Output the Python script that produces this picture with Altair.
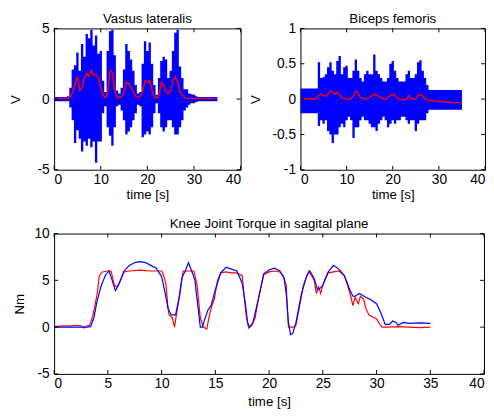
import altair as alt
import pandas as pd

# ---------------- data ----------------
# EMG sampling grid (every 0.5 s from 0 to 35 s)
EMG_T = [i * 0.5 for i in range(71)]

VL_HI = [0.15, 0.15, 0.15, 0.15, 0.15, 0.15, 0.2, 0.8, 2.1, 2.4,
         3.3, 2.0, 3.9, 3.0, 4.6, 4.3, 4.9, 3.8, 4.5, 3.2,
         3.4, 1.3, 0.5, 3.4, 4.8, 4.9, 3.1, 0.6, 0.4, 0.8,
         2.1, 3.9, 3.4, 2.8, 2.0, 1.0, 0.4, 0.5, 2.5, 4.1,
         3.4, 4.0, 2.5, 1.0, 0.3, 1.5, 2.7, 3.0, 2.8, 1.5,
         2.0, 3.4, 4.7, 4.9, 2.3, 1.5, 0.7, 0.7, 0.4, 0.35,
         0.3, 0.2, 0.15, 0.15, 0.15, 0.15, 0.15, 0.15, 0.15, 0.15,
         0.15]
VL_LO = [-0.15, -0.15, -0.15, -0.15, -0.15, -0.15, -0.15, -0.6, -1.5, -3.1,
         -2.2, -2.8, -3.7, -3.0, -3.3, -2.8, -3.4, -3.0, -4.5, -3.0,
         -3.0, -1.0, -0.5, -2.0, -2.6, -3.3, -2.0, -0.5, -0.4, -0.8,
         -1.5, -2.5, -2.3, -2.0, -1.5, -1.0, -0.4, -0.5, -2.7, -2.5,
         -2.3, -2.5, -2.0, -1.0, -0.3, -1.0, -2.0, -2.3, -2.0, -1.5,
         -1.5, -2.0, -2.5, -2.5, -2.0, -1.5, -0.8, -0.6, -0.4, -0.3,
         -0.3, -0.2, -0.15, -0.15, -0.15, -0.15, -0.15, -0.15, -0.15, -0.15,
         -0.15]
VL_ENV = [0.05, 0.05, 0.05, 0.05, 0.05, 0.05, 0.05, 0.2, 0.5, 1.1,
          1.6, 0.6, 0.8, 1.5, 1.8, 1.6, 2.0, 1.7, 1.7, 1.5,
          0.8, 0.3, 0.1, 0.5, 2.0, 1.9, 0.6, 0.1, 0.1, 0.2,
          0.5, 1.2, 1.1, 0.8, 0.5, 0.2, 0.1, 0.2, 0.6, 1.3,
          1.2, 1.3, 0.6, 0.2, 0.05, 0.3, 1.2, 1.0, 0.5, 0.4,
          0.6, 1.3, 1.6, 1.2, 0.5, 0.3, 0.1, 0.05, 0.05, 0.05,
          0.05, 0.05, 0.05, 0.05, 0.05, 0.05, 0.05, 0.05, 0.05, 0.05,
          0.05]

BF_HI = [0.15, 0.15, 0.15, 0.15, 0.15, 0.15, 0.15, 0.15, 0.52, 0.3,
         0.31, 0.35, 0.45, 0.52, 0.4, 0.35, 0.54, 0.61, 0.35, 0.45,
         0.47, 0.3, 0.3, 0.4, 0.56, 0.4, 0.3, 0.25, 0.35, 0.4,
         0.35, 0.35, 0.63, 0.4, 0.35, 0.3, 0.25, 0.25, 0.3, 0.5,
         0.54, 0.4, 0.3, 0.25, 0.25, 0.25, 0.35, 0.4, 0.3, 0.3,
         0.35, 0.52, 0.55, 0.4, 0.3, 0.2, 0.13, 0.13, 0.13, 0.13,
         0.13, 0.13, 0.13, 0.13, 0.13, 0.13, 0.13, 0.13, 0.13, 0.13,
         0.13]
BF_LO = [-0.2, -0.2, -0.2, -0.2, -0.2, -0.2, -0.2, -0.2, -0.38, -0.3,
         -0.35, -0.3, -0.45, -0.5, -0.62, -0.5, -0.5, -0.4, -0.35, -0.4,
         -0.3, -0.25, -0.3, -0.55, -0.4, -0.4, -0.3, -0.25, -0.3, -0.3,
         -0.35, -0.4, -0.4, -0.45, -0.35, -0.3, -0.25, -0.3, -0.4, -0.35,
         -0.3, -0.35, -0.3, -0.3, -0.25, -0.25, -0.3, -0.35, -0.3, -0.3,
         -0.45, -0.35, -0.3, -0.3, -0.3, -0.2, -0.15, -0.15, -0.15, -0.15,
         -0.15, -0.15, -0.15, -0.15, -0.15, -0.15, -0.15, -0.15, -0.15, -0.15,
         -0.15]
BF_ENV = [0.0, 0.0, 0.0, 0.0, 0.0, 0.0, 0.0, 0.02, 0.05, 0.07,
          0.05, 0.04, 0.08, 0.12, 0.1, 0.07, 0.1, 0.05, 0.02, 0.01,
          0.0, 0.0, 0.01, 0.05, 0.11, 0.08, 0.02, 0.01, 0.0, 0.01,
          0.02, 0.05, 0.07, 0.06, 0.04, 0.02, 0.0, 0.0, 0.03, 0.05,
          0.07, 0.05, 0.01, 0.0, -0.01, -0.01, 0.0, 0.05, 0.01, 0.0,
          0.0, 0.05, 0.07, 0.04, 0.0, -0.01, -0.02, -0.02, -0.03, -0.03,
          -0.03, -0.03, -0.04, -0.04, -0.04, -0.04, -0.05, -0.05, -0.05, -0.05,
          -0.05]

# Knee torque, red trace
TQ_RED_T = [0, 0.5, 1, 1.5, 2, 2.5, 2.8, 3, 3.3, 3.6, 4.0, 4.2, 4.5, 5.0, 5.3, 5.6, 5.8, 6.1, 6.5, 7,
            8, 9, 10, 10.2, 10.4, 10.6, 10.7, 11, 11.2, 11.4, 11.7, 12, 12.5, 13, 13.3, 13.6, 13.9, 14.2,
            14.4, 14.6, 14.9, 15.2, 15.5, 16, 16.5, 17, 17.5, 17.7, 17.9, 18.1, 18.4, 18.7, 19, 19.5, 20,
            20.5, 21, 21.3, 21.6, 21.7, 21.8, 22.3, 22.5, 22.8, 23.2, 23.7, 24.2, 24.4, 24.6, 24.8, 25,
            25.5, 26, 26.5, 27, 27.3, 27.6, 27.8, 28, 28.3, 28.5, 28.8, 29, 29.3, 29.6, 30, 30.3, 30.5,
            31, 32, 33, 34, 35]
TQ_RED_V = [0.05, 0.1, 0.15, 0.1, 0.2, 0.15, -0.1, 0.1, 0.2, 1.2, 3.5, 5.5, 5.9, 6.0, 6.0, 4.5, 4.3, 4.8, 5.9, 6.0,
            6.1, 6.0, 6.0, 5.5, 4.6, 2.0, 1.3, 1.0, 0.0, 1.5, 3.5, 6.0, 6.0, 6.0, 4.5, 1.0, 0.0, -0.2,
            1.0, 2.0, 3.0, 5.0, 5.8, 5.9, 5.8, 5.8, 5.5, 3.0, 1.0, -0.1, 0.2, 1.0, 3.0, 5.6, 5.9,
            6.0, 5.9, 5.5, 4.5, 2.0, 0.0, 0.0, 0.2, 2.0, 4.5, 6.0, 5.0, 3.6, 4.3, 3.6, 4.5,
            5.8, 5.9, 6.0, 5.5, 4.5, 3.3, 2.3, 3.2, 2.5, 3.3, 3.0, 2.0, 1.3, 1.1, 0.9, 0.3, 0.0,
            0.0, 0.05, 0.0, -0.05, 0.0]

# Knee torque, blue trace
TQ_BLUE_T = [0, 1, 2, 3, 3.4, 3.7, 4.0, 4.4, 4.8, 5.1, 5.4, 5.7, 6.0, 6.5, 7, 7.5, 8, 8.5, 9, 9.5,
             10, 10.3, 10.6, 10.9, 11.3, 11.6, 11.9, 12.2, 12.5, 12.8, 13.1, 13.4, 13.6, 13.8, 14.0, 14.3,
             14.6, 15, 15.5, 16, 16.5, 17, 17.5, 17.8, 18.0, 18.2, 18.5, 19, 19.5, 20, 20.5, 21, 21.4,
             21.6, 21.8, 22, 22.2, 22.5, 23, 23.5, 23.8, 24.2, 24.5, 24.8, 25, 25.5, 26, 26.5, 27, 27.5,
             27.8, 28, 28.4, 29, 29.5, 30, 30.4, 30.8, 31.2, 31.5, 31.8, 32, 32.5, 33, 34, 35]
TQ_BLUE_V = [0, 0, 0, 0, 0.05, 1.0, 2.8, 4.5, 5.6, 6.0, 5.0, 3.9, 4.5, 6.0, 6.6, 6.9, 7.0, 6.9, 6.6, 6.3,
             5.4, 3.8, 2.0, 1.3, 1.3, 3.0, 5.3, 6.0, 6.9, 6.0, 5.0, 2.0, 0.0, 0.0, 0.8, 1.8,
             2.3, 4.0, 5.8, 6.4, 6.2, 6.0, 4.7, 2.5, 0.5, 0.0, 0.5, 3.0, 5.7, 6.1, 6.3, 6.0, 5.2,
             3.5, 0.5, -0.8, -0.7, 0.5, 3.5, 5.5, 6.0, 5.2, 4.0, 4.2, 4.5, 5.9, 6.6, 6.2, 5.5, 4.0,
             3.3, 3.3, 3.6, 3.2, 2.9, 2.5, 1.5, 0.3, 0.3, 0.65, 0.5, 0.2, 0.5, 0.4, 0.45, 0.4]

X_TICKS_TOP = [0, 10, 20, 30, 40]
X_TICKS_BOTTOM = [0, 5, 10, 15, 20, 25, 30, 35, 40]
Y_TICKS_VL = [-5, 0, 5]
Y_TICKS_BF = [-1, -0.5, 0, 0.5, 1]
Y_TICKS_TQ = [-5, 0, 5, 10]

BLUE = "#0000FF"
RED = "#FF0000"
FONT = "Liberation Sans"
TICK_LEN = 4
LABEL_SIZE = 14
TITLE_SIZE = 13.5


def panel(layers, xdom, ydom, xticks, yticks, w, h, title, ytitle, ytitle_pad, ylabel_pad, xtitle_pad):
    xs = alt.Scale(domain=xdom, nice=False, zero=False)
    ys = alt.Scale(domain=ydom, nice=False, zero=False)
    xax = alt.Axis(values=xticks, title="time [s]", grid=False, ticks=False, domain=False,
                   labelExpr="'' + datum.value", labelPadding=3, titlePadding=xtitle_pad)
    yax = alt.Axis(values=yticks, title=ytitle, grid=False, ticks=False, domain=False,
                   labelExpr="'' + datum.value", labelPadding=ylabel_pad, titlePadding=ytitle_pad)
    X = lambda f: alt.X(f, scale=xs, axis=xax)
    Y = lambda f: alt.Y(f, scale=ys, axis=yax)
    ch = []
    for df, kind, color, extra in layers:
        base = alt.Chart(df)
        if kind == "area":
            m = base.mark_area(color=color, opacity=1, interpolate="step").encode(
                x=X("t:Q"), y=Y("lo:Q"), y2="hi:Q")
        else:
            m = base.mark_line(color=color, strokeWidth=extra).encode(
                x=X("t:Q"), y=Y("v:Q"))
        ch.append(m)
    xt = pd.DataFrame({"t": xticks})
    yt = pd.DataFrame({"v": yticks})
    ch.append(alt.Chart(xt).mark_rule(color="black", strokeWidth=1).encode(
        x=X("t:Q"), y=alt.value(0), y2=alt.value(TICK_LEN)))
    ch.append(alt.Chart(xt).mark_rule(color="black", strokeWidth=1).encode(
        x=X("t:Q"), y=alt.value(h), y2=alt.value(h - TICK_LEN)))
    ch.append(alt.Chart(yt).mark_rule(color="black", strokeWidth=1).encode(
        y=Y("v:Q"), x=alt.value(0), x2=alt.value(TICK_LEN)))
    ch.append(alt.Chart(yt).mark_rule(color="black", strokeWidth=1).encode(
        y=Y("v:Q"), x=alt.value(w), x2=alt.value(w - TICK_LEN)))
    return alt.layer(*ch).properties(
        width=w, height=h,
        title=alt.TitleParams(title, fontSize=TITLE_SIZE, fontWeight="normal", font=FONT,
                              offset=-4, frame="group"),
    )


vl_band = pd.DataFrame({"t": EMG_T, "lo": VL_LO, "hi": VL_HI})
vl_env = pd.DataFrame({"t": EMG_T, "v": VL_ENV})
bf_band = pd.DataFrame({"t": EMG_T, "lo": BF_LO, "hi": BF_HI})
bf_env = pd.DataFrame({"t": EMG_T, "v": BF_ENV})
tq_red = pd.DataFrame({"t": TQ_RED_T, "v": TQ_RED_V})
tq_blue = pd.DataFrame({"t": TQ_BLUE_T, "v": TQ_BLUE_V})

p1 = panel([(vl_band, "area", BLUE, None), (vl_env, "line", RED, 1.5)],
           [0, 40], [-5, 5], X_TICKS_TOP, Y_TICKS_VL, 190, 144, "Vastus lateralis", "V", 15, 5, 1)
p2 = panel([(bf_band, "area", BLUE, None), (bf_env, "line", RED, 1.5)],
           [0, 40], [-1, 1], X_TICKS_TOP, Y_TICKS_BF, 188, 144, "Biceps femoris", "V", 10, 5, 1)
p3 = panel([(tq_red, "line", RED, 1.2), (tq_blue, "line", BLUE, 1.2)],
           [0, 40], [-5, 10], X_TICKS_BOTTOM, Y_TICKS_TQ, 438, 143,
           "Knee Joint Torque in sagital plane", "Nm", 8, 5, 4)

top = alt.hconcat(p1, p2, spacing=6)
chart = alt.vconcat(top, p3, spacing=16).configure(
    font=FONT, padding=0
).configure_axis(
    labelFont=FONT, titleFont=FONT, labelFontSize=LABEL_SIZE, titleFontSize=TITLE_SIZE,
    titleFontWeight="normal", labelColor="black", titleColor="black",
).configure_view(stroke="black", strokeWidth=1)

chart.save("out.html", embed_options={"renderer": "svg", "actions": False})
